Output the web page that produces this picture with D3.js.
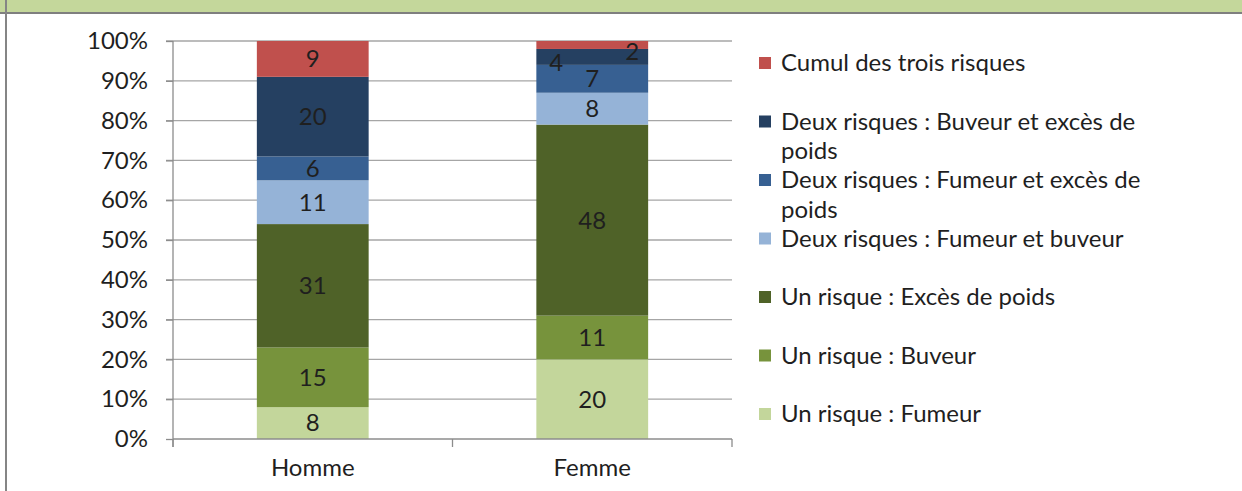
<!DOCTYPE html>
<html><head><meta charset="utf-8">
<script src="https://cdn.jsdelivr.net/npm/d3@7"></script>
<style>
html,body{margin:0;padding:0;background:#fff;}
svg{display:block;}
text{font-family:Lato,"Open Sans",sans-serif;fill:#1f1f1f;}
</style></head>
<body>
<svg id="c" width="1242" height="491"></svg>
<script>
const categories = ["Homme", "Femme"];
const seriesNames = [
  "Un risque : Fumeur",
  "Un risque : Buveur",
  "Un risque : Excès de poids",
  "Deux risques : Fumeur et buveur",
  "Deux risques : Fumeur et excès de poids",
  "Deux risques : Buveur et excès de poids",
  "Cumul des trois risques"
];
const homme = [8, 15, 31, 11, 6, 20, 9];
const femme = [20, 11, 48, 8, 7, 4, 2];
const colors = ["#c3d69b", "#77933c", "#4f6228", "#95b3d7", "#376092", "#254061", "#c0504d"];
const yTicks = [0, 10, 20, 30, 40, 50, 60, 70, 80, 90, 100];
const legendLines = [
  ["Cumul des trois risques"],
  ["Deux risques : Buveur et excès de", "poids"],
  ["Deux risques : Fumeur et excès de", "poids"],
  ["Deux risques : Fumeur et buveur"],
  ["Un risque : Excès de poids"],
  ["Un risque : Buveur"],
  ["Un risque : Fumeur"]
];

const svg = d3.select("#c");
const FS = 24;

// frame: green band, grey rule, left border
svg.append("rect").attr("x", 0).attr("y", 0).attr("width", 1242).attr("height", 12).attr("fill", "#c4d79b");
svg.append("rect").attr("x", 0).attr("y", 12).attr("width", 1242).attr("height", 2).attr("fill", "#7f7f7f");
svg.append("rect").attr("x", 5).attr("y", 0).attr("width", 2).attr("height", 491).attr("fill", "#858585");

const x = d3.scaleBand().domain(categories).range([173, 732]).paddingInner(0.6).paddingOuter(0.3);
const y = d3.scaleLinear().domain([0, 100]).range([439, 41]);

// gridlines
svg.append("g").selectAll("line").data(yTicks.filter(t => t > 0)).join("line")
  .attr("x1", 166).attr("x2", 732).attr("y1", d => y(d)).attr("y2", d => y(d))
  .attr("stroke", "#a6a6a6").attr("stroke-width", 1.3);

// y axis
const yAxis = svg.append("g").attr("transform", "translate(173,0)")
  .call(d3.axisLeft(y).tickValues(yTicks).tickSize(7).tickPadding(18).tickFormat(d => d + "%"));
yAxis.select(".domain").attr("stroke", "#8c8c8c").attr("stroke-width", 1.3).attr("d", "M0,41V447");
yAxis.selectAll(".tick line").attr("stroke", "#8c8c8c").attr("stroke-width", 1.3);
yAxis.selectAll(".tick text").attr("font-size", FS).attr("font-family", "Lato").attr("fill", "#1f1f1f");

// stacked data
const rows = categories.map((c, i) => {
  const o = {cat: c};
  const vals = i === 0 ? homme : femme;
  seriesNames.forEach((s, j) => o[s] = vals[j]);
  return o;
});
const stacked = d3.stack().keys(seriesNames)(rows);

const g = svg.append("g");
stacked.forEach((layer, j) => {
  g.selectAll(null).data(layer).join("rect")
    .attr("x", d => x(d.data.cat))
    .attr("width", x.bandwidth())
    .attr("y", d => y(d[1]))
    .attr("height", d => y(d[0]) - y(d[1]))
    .attr("fill", colors[j]);
});

// label nudges for crowded top segments (Excel auto-placement)
const nudge = {"Femme|Deux risques : Buveur et excès de poids": [-36, 6], "Femme|Cumul des trois risques": [40, 7]};
stacked.forEach((layer, j) => {
  g.selectAll(null).data(layer).join("text")
    .attr("x", d => x(d.data.cat) + x.bandwidth() / 2 + ((nudge[d.data.cat + "|" + layer.key] || [0, 0])[0]))
    .attr("y", d => y((d[0] + d[1]) / 2) + ((nudge[d.data.cat + "|" + layer.key] || [0, 0])[1]))
    .attr("dy", "0.35em")
    .attr("text-anchor", "middle")
    .attr("font-size", FS)
    .attr("fill", "#000")
    .text(d => d.data[layer.key]);
});

// x axis
const xAxis = svg.append("g").attr("transform", "translate(0,439)")
  .call(d3.axisBottom(x).tickSize(0).tickPadding(20));
xAxis.select(".domain").attr("stroke", "#8c8c8c").attr("stroke-width", 1.3).attr("d", "M173,0H732");
xAxis.selectAll(".tick text").attr("font-size", FS).attr("font-family", "Lato").attr("fill", "#1f1f1f");
// category boundary ticks
const bounds = [173, 173 + (732 - 173) / 2, 732];
xAxis.append("g").selectAll("line").data(bounds).join("line")
  .attr("x1", d => d).attr("x2", d => d).attr("y1", 0).attr("y2", 8)
  .attr("stroke", "#8c8c8c").attr("stroke-width", 1.3);

// legend
const lg = svg.append("g");
const legendColors = colors.slice().reverse();
legendLines.forEach((lines, i) => {
  const cy = 63 + i * 58.5;
  lg.append("rect").attr("x", 759).attr("y", cy - 6).attr("width", 12).attr("height", 12).attr("fill", legendColors[i]);
  lines.forEach((t, k) => {
    lg.append("text").attr("x", 781).attr("y", cy + k * 29.5).attr("dy", "0.35em")
      .attr("font-size", FS).text(t);
  });
});
</script>
</body></html>
